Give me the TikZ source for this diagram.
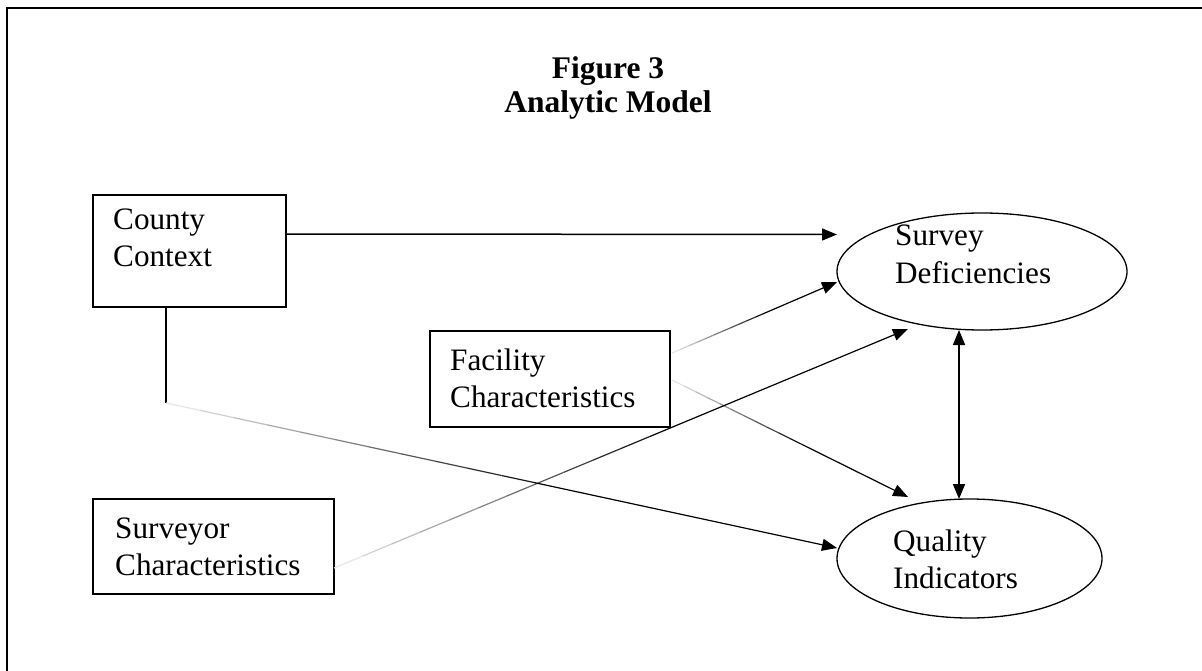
\documentclass[tikz,border=0pt]{standalone}
\usepackage{fontspec}
\setmainfont{Liberation Serif}
\usetikzlibrary{arrows.meta,calc,shapes.geometric}
\newcommand\fadeline[2]{%
  \foreach \i [evaluate=\i as \a using \i/20,
               evaluate=\i as \b using (\i+1)/20,
               evaluate=\i as \c using int(10+\i*8)] in {0,...,10} {
    \draw[conn, draw=black!\c] ($#1!\a!#2$) -- ($#1!\b!#2$);
  }
  \draw[arr] ($#1!0.55!#2$) -- #2;
}
\begin{document}
\begin{tikzpicture}[x=1pt,y=-1pt,
  boxnode/.style={draw, rectangle, line width=1.8pt, inner sep=0pt, outer sep=0pt},
  oval/.style={draw, ellipse, line width=1.3pt, inner sep=0pt, outer sep=0pt},
  lbl/.style={font=\fontsize{31.2}{37}\selectfont, align=left, inner sep=0pt, anchor=base west},
  ttl/.style={font=\fontsize{31.5}{37}\selectfont\bfseries, align=center, inner sep=0pt, anchor=base},
  conn/.style={line width=1.2pt, line cap=butt},
  arr/.style={conn, -{Triangle[length=15pt,width=12pt]}},
  darr/.style={conn, line width=1.6pt, {Triangle[length=15pt,width=12pt]}-{Triangle[length=15pt,width=12pt]}}]
\useasboundingbox (0,0) rectangle (1202,671);
% frame
\draw[line width=2pt] (6.7,671) -- (6.7,7.6) -- (1202,7.6);
% title
\node[ttl] (t1) at (608,79) {Figure 3};
\node[ttl] (t2) at (608,113) {Analytic Model};
% boxes
\node[boxnode, minimum width=193pt, minimum height=112pt] (cc) at (189.5,251) {};
\node[boxnode, minimum width=240pt, minimum height=96pt] (fc) at (550,379) {};
\node[boxnode, minimum width=241pt, minimum height=95pt] (sc) at (213.5,546.5) {};
% ellipses
\node[oval, minimum width=290pt, minimum height=117pt] (sd) at (982,271.5) {};
\node[oval, minimum width=265pt, minimum height=119pt] (qi) at (969.5,558.5) {};
% labels (base = last line)
\node[lbl] (cct) at (113,266) {County\\Context};
\node[lbl] (fct) at (450,407) {Facility\\Characteristics};
\node[lbl] (sct) at (115,575) {Surveyor\\Characteristics};
\node[lbl] (sdt) at (895,283) {Survey\\Deficiencies};
\node[lbl] (qit) at (893,588) {Quality\\Indicators};
% connector end points
\coordinate (s1) at ($(cc.east)+(0,-17)$);
\coordinate (e1) at ($(sd.west)+(0,-37)$);
\coordinate (s2) at ($(fc.east)+(2,-26)$);
\coordinate (e2) at ($(sd.west)+(0,10.5)$);
\coordinate (s3) at ($(fc.east)+(2,1)$);
\coordinate (e3) at ($(qi.north)+(-61.5,-2)$);
\coordinate (s4) at ($(sc.east)+(0,21.5)$);
\coordinate (e4) at ($(sd.south)+(-74,-1)$);
\coordinate (s5) at ($(cc.south)+(-23.5,0)$);
\coordinate (bend) at ($(cc.south)+(-23.5,96)$);
\coordinate (e5) at ($(qi.west)+(0,-10.5)$);
\coordinate (s6) at ($(sd.south)+(-23,0)$);
\coordinate (e6) at ($(qi.north)+(-10.5,0)$);
% connectors
\draw[arr, line width=1.5pt] (s1) -- (e1);
\fadeline{(s2)}{(e2)}
\fadeline{(s3)}{(e3)}
\fadeline{(s4)}{(e4)}
\draw[conn, line width=1.5pt] (s5) -- (bend);
\fadeline{(bend)}{(e5)}
\draw[darr] (s6) -- (e6);
\end{tikzpicture}
\end{document}
